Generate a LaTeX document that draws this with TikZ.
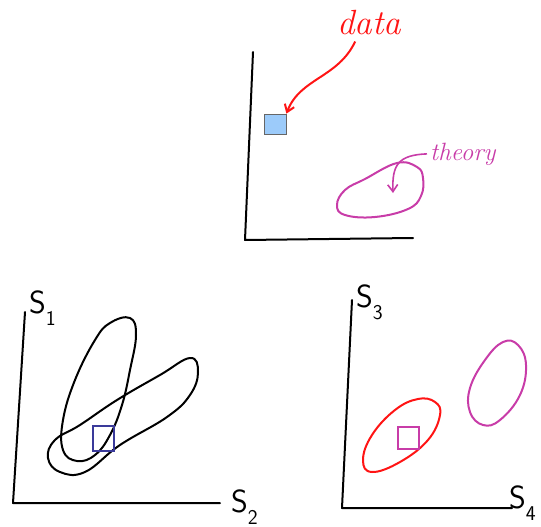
\documentclass[tikz,border=0pt]{standalone}
\usepackage{tikz}
\usetikzlibrary{arrows.meta}
\definecolor{inkred}{HTML}{FF1414}
\definecolor{inkpink}{HTML}{C83CA8}
\definecolor{inkblue}{HTML}{9CCBFA}
\definecolor{inknavy}{HTML}{3A3A9A}
\newcommand{\sublab}[2]{#1\raisebox{-0.38em}{\fontsize{21}{21}\selectfont #2}}

\begin{document}
\begin{tikzpicture}[x=1pt,y=-1pt,
  axis/.style={black,line width=2pt,line cap=round,line join=round},
  loop/.style={line width=2pt,line join=round},
  slabel/.style={anchor=base west,inner sep=0pt,font=\sffamily\fontsize{32}{32}\selectfont},
  barb/.style={-{Straight Barb[length=7pt,width=10pt]}}]
  \useasboundingbox (0,0) rectangle (541,527);

  % top panel: data vs theory
  \draw[axis] (253,52) -- (245,240) -- (413,238);
  \node[draw=black!60,fill=inkblue,line width=0.8pt,minimum width=22pt,minimum height=20pt,inner sep=0pt] (sq) at (275,124) {};
  \node[anchor=base west,inner sep=0pt,text=inkred,font=\itshape\fontsize{35}{35}\selectfont] (data) at (337,35) {data};
  \node[anchor=base west,inner sep=3pt,text=inkpink,font=\itshape\fontsize{25}{25}\selectfont] (theory) at (427,160) {theory};
  \draw[loop,inkpink] plot[smooth cycle,tension=0.7] coordinates {(337,205) (345,190) (365,179) (397,163) (417,167) (423,178) (421,196) (408,209) (375,217) (345,215)};
  \coordinate (tin) at (393,193);
  \draw[inkred,line width=2pt,barb] ([shift={(-14,6)}]data.south) .. controls (338,78) and (300,78) .. (sq.north east);
  \draw[inkpink,line width=1.6pt,barb] (theory.west) .. controls (398,155) and (392,165) .. (tin);

  % bottom left: S1 vs S2
  \draw[axis] (25,312) -- (13,503) -- (220,503);
  \node[slabel] (s1) at (29,313) {\sublab{S}{1}};
  \node[slabel] (s2) at (231,512) {\sublab{S}{2}};
  \draw[loop] plot[smooth cycle,tension=0.7] coordinates {(110,323) (130,318) (136,335) (130,370) (122,405) (110,435) (95,455) (77,461) (63,450) (63,420) (75,380) (95,340)};
  \draw[loop] plot[smooth cycle,tension=0.7] coordinates {(190,358) (198,372) (190,395) (167,417) (120,445) (85,472) (60,472) (48,458) (55,440) (80,425) (117,400) (160,375)};
  \node[draw=inknavy,line width=1.6pt,minimum width=21pt,minimum height=25pt,inner sep=0pt] (box1) at (103.5,438.5) {};

  % bottom right: S3 vs S4
  \draw[axis] (352,300) -- (342,508) -- (512,508);
  \node[slabel] (s3) at (356,307) {\sublab{S}{3}};
  \node[slabel] (s4) at (509,508) {\sublab{S}{4}};
  \draw[loop,inkred] plot[smooth cycle,tension=0.7] coordinates {(418,399) (435,402) (440,415) (428,440) (400,462) (372,472) (363,460) (372,435) (395,410)};
  \draw[loop,inkpink] plot[smooth cycle,tension=0.7] coordinates {(503,342) (518,345) (526,365) (520,395) (500,420) (483,425) (470,412) (470,388) (485,360)};
  \node[draw=inkpink,line width=1.6pt,minimum width=21pt,minimum height=22pt,inner sep=0pt] (box2) at (408.5,438) {};
\end{tikzpicture}
\end{document}
